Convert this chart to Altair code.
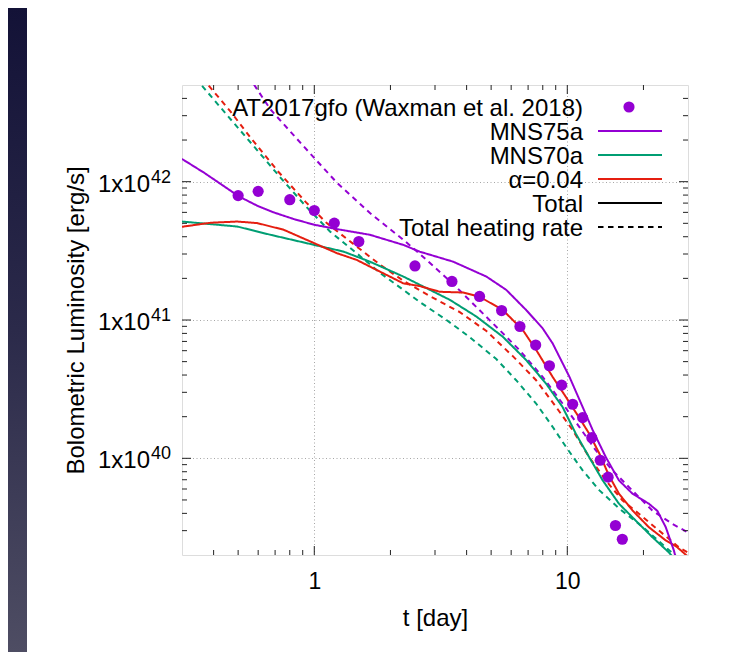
import altair as alt
import pandas as pd

FONT = "Liberation Sans"
PURPLE = "#9400d3"
GREEN = "#009e73"
RED = "#e51e10"

# ---------------- data ----------------
obs_t = [0.5, 0.6, 0.8, 1.0, 1.2, 1.5, 2.5, 3.5, 4.5, 5.5, 6.5, 7.5, 8.5, 9.5,
         10.5, 11.5, 12.5, 13.5, 14.5, 15.5, 16.5]
obs_L = [7.93e41, 8.51e41, 7.41e41, 6.19e41, 5.02e41, 3.69e41, 2.46e41, 1.90e41,
         1.48e41, 1.17e41, 8.97e40, 6.59e40, 4.67e40, 3.38e40, 2.46e40, 1.97e40,
         1.41e40, 9.68e39, 7.31e39, 3.27e39, 2.60e39]

mns75a_t = [0.3, 0.367, 0.504, 0.595, 0.691, 0.829, 1.00, 1.23, 1.66, 2.25, 2.61,
            3.54, 4.79, 5.74, 6.88, 7.99, 8.75, 10.2, 11.5, 12.6, 14.2, 16.0,
            18.1, 21.0, 22.7, 24.5, 26.4, 28.0]
mns75a_L = [1.46e42, 1.16e42, 7.82e41, 6.70e41, 6.00e41, 5.37e41, 4.88e41, 4.54e41,
            4.13e41, 3.49e41, 3.12e41, 2.64e41, 2.06e41, 1.65e41, 1.18e41, 8.71e40,
            6.78e40, 3.88e40, 2.35e40, 1.60e40, 1.02e40, 6.93e39, 5.55e39, 4.70e39,
            4.17e39, 3.18e39, 2.15e39, 1.4e39]

mns75a_heat_t = [0.55, 0.577, 0.671, 0.908, 1.23, 1.66, 2.25, 2.61, 3.54, 5.24, 6.47,
                 7.99, 9.58, 11.15, 12.97, 15.08, 18.07, 21.67, 25.98, 30.0]
mns75a_heat_L = [5.8e42, 5.05e42, 3.33e42, 1.80e42, 9.80e41, 5.93e41, 3.80e41, 3.01e41,
                 1.82e41, 8.94e40, 6.06e40, 3.88e40, 2.49e40, 1.69e40, 1.14e40,
                 8.18e39, 5.86e39, 4.20e39, 3.36e39, 2.91e39]

mns70a_t = [0.3, 0.496, 0.671, 1.00, 1.30, 1.66, 2.25, 3.43, 4.37, 5.56, 6.88, 8.24,
            9.58, 10.8, 12.2, 13.8, 16.0, 18.6, 21.7, 25.2, 27.0]
mns70a_L = [5.15e41, 4.74e41, 4.13e41, 3.49e41, 3.13e41, 2.64e41, 2.06e41, 1.40e41,
            1.06e41, 7.57e40, 5.13e40, 3.47e40, 2.35e40, 1.51e40, 1.02e40, 6.93e39,
            4.70e39, 3.56e39, 2.69e39, 2.09e39, 1.8e39]

mns70a_heat_t = [0.34, 0.356, 0.450, 0.570, 0.735, 0.926, 1.156, 1.47, 1.82, 2.25,
                 2.61, 3.33, 4.11, 5.24, 6.28, 7.53, 8.75, 9.88, 11.5, 13.4, 16.0,
                 20.0, 24.8, 28.0]
mns70a_heat_L = [5.6e42, 5.05e42, 3.06e42, 1.85e42, 1.07e42, 6.64e41, 4.35e41, 3.04e41,
                 2.19e41, 1.65e41, 1.35e41, 1.00e41, 7.53e40, 5.22e40, 3.67e40,
                 2.49e40, 1.69e40, 1.21e40, 8.18e39, 5.86e39, 4.35e39, 3.16e39,
                 2.23e39, 1.85e39]

alpha_t = [0.3, 0.390, 0.496, 0.595, 0.757, 1.00, 1.23, 1.47, 1.87, 2.25, 2.61, 3.13,
           3.87, 4.51, 5.56, 6.67, 7.54, 8.75, 9.87, 11.1, 12.2, 13.4, 14.6, 16.0,
           18.1, 21.0, 24.5, 27.0, 29.5, 30.0]
alpha_L = [4.72e41, 5.05e41, 5.15e41, 5.02e41, 4.49e41, 3.59e41, 3.04e41, 2.72e41,
           2.18e41, 1.84e41, 1.76e41, 1.60e41, 1.58e41, 1.47e41, 1.18e41, 8.47e40,
           6.06e40, 3.88e40, 2.78e40, 1.99e40, 1.51e40, 1.08e40, 7.53e39, 5.55e39,
           4.20e39, 3.18e39, 2.55e39, 2.3e39, 2.0e39, 1.95e39]

alpha_heat_t = [0.36, 0.379, 0.467, 0.561, 0.721, 0.926, 1.12, 1.47, 1.82, 2.25, 2.86,
                3.76, 4.79, 6.09, 7.53, 9.03, 10.5, 12.2, 14.2, 16.5, 19.2, 23.0,
                27.6, 30.0]
alpha_heat_L = [5.6e42, 5.05e42, 3.21e42, 2.07e42, 1.18e42, 7.11e41, 5.02e41, 3.40e41,
                2.51e41, 1.92e41, 1.49e41, 1.14e41, 8.32e40, 5.48e40, 3.67e40,
                2.35e40, 1.60e40, 1.02e40, 6.93e39, 4.97e39, 3.97e39, 3.01e39,
                2.28e39, 2.08e39]

x_major = [1, 10]
x_minor = [0.4, 0.5, 0.6, 0.7, 0.8, 0.9, 2, 3, 4, 5, 6, 7, 8, 9, 20]
y_major = [1e40, 1e41, 1e42]
y_exps = ["40", "41", "42"]
y_minor = [3e39, 4e39, 5e39, 6e39, 7e39, 8e39, 9e39,
           2e40, 3e40, 4e40, 5e40, 6e40, 7e40, 8e40, 9e40,
           2e41, 3e41, 4e41, 5e41, 6e41, 7e41, 8e41, 9e41,
           2e42, 3e42, 4e42]

legend_labels = ["AT2017gfo (Waxman et al. 2018)", "MNS75a", "MNS70a", "α=0.04",
                 "Total", "Total heating rate"]
legend_colors = [PURPLE, PURPLE, GREEN, RED, "black", "black"]
legend_dashed = [False, False, False, False, False, True]

models = ["MNS75a", "MNS70a", "alpha"]
model_colors = [PURPLE, GREEN, RED]

# ---------------- layout ----------------
W, H = 506, 470
PAD = {"left": 174, "top": 77, "right": 53, "bottom": 97}
DASH = [5.5, 4.5]

series = [
    ("MNS75a", "dashed", mns75a_heat_t, mns75a_heat_L),
    ("MNS70a", "dashed", mns70a_heat_t, mns70a_heat_L),
    ("alpha", "dashed", alpha_heat_t, alpha_heat_L),
    ("MNS70a", "solid", mns70a_t, mns70a_L),
    ("alpha", "solid", alpha_t, alpha_L),
    ("MNS75a", "solid", mns75a_t, mns75a_L),
]
rows = []
for k, (model, kind, ts, Ls) in enumerate(series):
    for i, (t, L) in enumerate(zip(ts, Ls)):
        rows.append({"model": model, "kind": kind, "series": k, "t": t, "L": L, "i": i})
lines_df = pd.DataFrame(rows)
obs_df = pd.DataFrame({"t": obs_t, "L": obs_L})

xscale = alt.Scale(type="log", domain=[0.3, 30], nice=False)
yscale = alt.Scale(type="log", domain=[2e39, 5e42], nice=False)

grid_kw = dict(grid=True, gridColor="#a6a6a6", gridDash=[1, 2.5], gridWidth=1,
               ticks=False, tickSize=0, domain=False)
xaxis = alt.Axis(values=x_major, labelExpr="format(datum.value, 'd')",
                 labelFontSize=23, labelColor="black", labelFont=FONT,
                 labelPadding=33, labelBaseline="alphabetic",
                 title="t [day]", titleFontSize=24, titleFontWeight="normal",
                 titleColor="black", titleFont=FONT, titleX=W / 2, titleY=70,
                 titleBaseline="alphabetic", titleAlign="center", **grid_kw)
yaxis = alt.Axis(values=y_major, labels=False,
                 title="Bolometric Luminosity [erg/s]", titleFontSize=24,
                 titleFontWeight="normal", titleColor="black", titleFont=FONT,
                 titleX=-99, titleY=H / 2, titleAngle=270,
                 titleBaseline="alphabetic", titleAlign="center", **grid_kw)


def X(field):
    return alt.X(field, type="quantitative", scale=xscale, axis=xaxis)


def Y(field):
    return alt.Y(field, type="quantitative", scale=yscale, axis=yaxis)


dummy = pd.DataFrame({"d": [0]})

# background strip of the slide
grad = alt.Gradient(gradient="linear", x1=0, x2=0, y1=0, y2=1,
                    stops=[alt.GradientStop(color="#131237", offset=0),
                           alt.GradientStop(color="#2b2a4a", offset=0.5),
                           alt.GradientStop(color="#4e4d63", offset=1)])
bg = alt.Chart(dummy).mark_rect(fill=grad).encode(
    x=alt.value(-PAD["left"]), x2=alt.value(-155),
    y=alt.value(-PAD["top"]), y2=alt.value(H + PAD["bottom"]))

lines = alt.Chart(lines_df).mark_line(strokeWidth=2, clip=True).encode(
    x=X("t"), y=Y("L"),
    color=alt.Color("model:N", scale=alt.Scale(domain=models, range=model_colors), legend=None),
    strokeDash=alt.StrokeDash("kind:N", scale=alt.Scale(domain=["solid", "dashed"],
                                                        range=[[1, 0], DASH]), legend=None),
    detail="series:N", order="i:Q")

dots = alt.Chart(obs_df).mark_circle(size=125, color=PURPLE, opacity=1, clip=True).encode(
    x=X("t"), y=Y("L"))

# inward, mirrored ticks
tick_layers = []
for vals, ln in [(x_major, 9), (x_minor, 5)]:
    d = pd.DataFrame({"v": vals})
    tick_layers.append(alt.Chart(d).mark_rule(color="#222", strokeWidth=1).encode(
        x=X("v"), y=alt.value(H), y2=alt.value(H - ln)))
    tick_layers.append(alt.Chart(d).mark_rule(color="#222", strokeWidth=1).encode(
        x=X("v"), y=alt.value(0), y2=alt.value(ln)))
for vals, ln in [(y_major, 9), (y_minor, 5)]:
    d = pd.DataFrame({"v": vals})
    tick_layers.append(alt.Chart(d).mark_rule(color="#222", strokeWidth=1).encode(
        y=Y("v"), x=alt.value(0), x2=alt.value(ln)))
    tick_layers.append(alt.Chart(d).mark_rule(color="#222", strokeWidth=1).encode(
        y=Y("v"), x=alt.value(W), x2=alt.value(W - ln)))

# y tick labels 1x10^n
ylab_df = pd.DataFrame({"v": y_major, "exp": y_exps, "base": ["1x10"] * len(y_major)})
ylab_base = alt.Chart(ylab_df).mark_text(align="right", baseline="alphabetic", font=FONT,
                                         fontSize=24, color="black", dy=10).encode(
    x=alt.value(-32), y=Y("v"), text="base:N")
ylab_exp = alt.Chart(ylab_df).mark_text(align="left", baseline="alphabetic", font=FONT,
                                        fontSize=18, color="black", dy=1).encode(
    x=alt.value(-31), y=Y("v"), text="exp:N")

# key (gnuplot style: text right-aligned, sample to the right)
legend_layers = []
for i, lab in enumerate(legend_labels):
    yc = 22 + 24 * i
    legend_layers.append(alt.Chart(dummy).mark_text(
        text=lab, align="right", baseline="alphabetic", font=FONT, fontSize=24,
        color="black").encode(x=alt.value(401), y=alt.value(yc + 8.6)))
    if i == 0:
        legend_layers.append(alt.Chart(dummy).mark_circle(
            size=125, color=legend_colors[i], opacity=1).encode(
            x=alt.value(447), y=alt.value(yc)))
    else:
        kw = {"strokeDash": DASH} if legend_dashed[i] else {}
        legend_layers.append(alt.Chart(dummy).mark_rule(
            color=legend_colors[i], strokeWidth=2, **kw).encode(
            x=alt.value(416), x2=alt.value(480), y=alt.value(yc)))

chart = alt.layer(bg, lines, dots, *tick_layers, ylab_base, ylab_exp, *legend_layers).properties(
    width=W, height=H,
    autosize=alt.AutoSizeParams(type="none"),
    padding=PAD,
    background="white",
).configure_view(stroke="#222", strokeWidth=1.5).configure(font=FONT)

chart.save("out.html", embed_options={"renderer": "svg", "actions": False})
